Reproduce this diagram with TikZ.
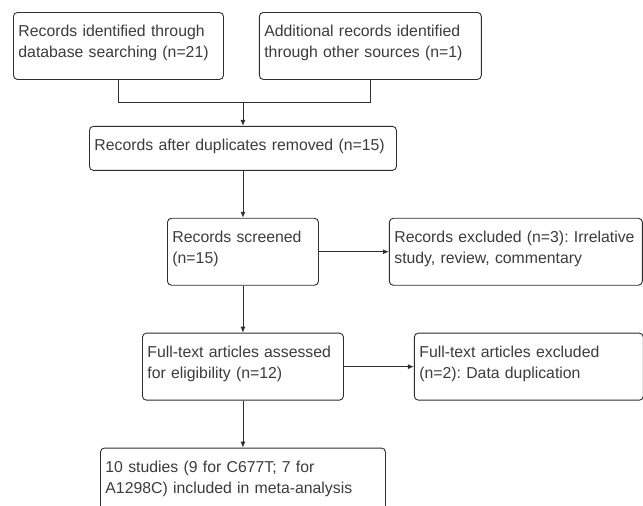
\documentclass[tikz,border=0pt]{standalone}
\usepackage{fontspec}
\setmainfont{Liberation Sans}
\usetikzlibrary{arrows.meta,calc,positioning}
\definecolor{lineColor}{RGB}{45,45,45}
\definecolor{textColor}{RGB}{60,60,60}
\tikzset{record/.style={draw=lineColor, text=textColor, fill=white, align=left, rounded corners=4pt, inner xsep=5pt, inner ysep=0pt, text height=24pt, text depth=43pt, line width=0.9pt, font=\fontsize{15.8pt}{21.5pt}\selectfont\frenchspacing}}

\begin{document}
\begin{tikzpicture}[node distance=47pt and 70pt]
	\useasboundingbox (0,0) rectangle (643pt,-506pt);
	% Nodes
		\node (dbsearch) [record, text width=200pt, anchor=north west] at (13pt,-12pt) {Records identified through\\database searching (n=21)};
		\node (othersrc) [record, text width=212pt, right=35pt of dbsearch] {Additional records identified\\through other sources (n=1)};

		\node (dedup) [record, text width=297pt, text depth=20pt, below=46pt of dbsearch, xshift=124.5pt] {Records after duplicates removed (n=15)};

		\node (screened) [record, text width=141pt, below=of dedup] {Records screened\\(n=15)};
		\node (screenexcl) [record, text width=243pt, right=of screened] {Records excluded (n=3): Irrelative\\study, review, commentary};

		\node (assessed) [record, text width=191pt, below=of screened] {Full-text articles assessed\\for eligibility (n=12)};
		\node (fulltextexcl) [record, text width=219pt, right=of assessed] {Full-text articles excluded\\(n=2): Data duplication};

		\node (included) [record, text width=275pt, below=of assessed] {10 studies (9 for C677T; 7 for\\A1298C) included in meta-analysis};

		% Connectors
		\path (dedup.north) ++(0,23pt) coordinate (merge);
		\begin{scope}[draw=lineColor, line width=0.9pt]

		\draw (dbsearch.south) |- (merge) -| (othersrc.south);
		\draw [-{Latex[length=6pt,width=5pt]}] (merge) -- (dedup);

		\draw [-{Latex[length=6pt,width=5pt]}] (dedup) -- (screened);
		\draw [-{Latex[length=6pt,width=5pt]}] (screened) -- (screenexcl);

		\draw [-{Latex[length=6pt,width=5pt]}] (screened) -- (assessed);
		\draw [-{Latex[length=6pt,width=5pt]}] (assessed) -- (fulltextexcl);

		\draw [-{Latex[length=6pt,width=5pt]}] (assessed) -- (included);

	\end{scope}

\end{tikzpicture}
\end{document}
